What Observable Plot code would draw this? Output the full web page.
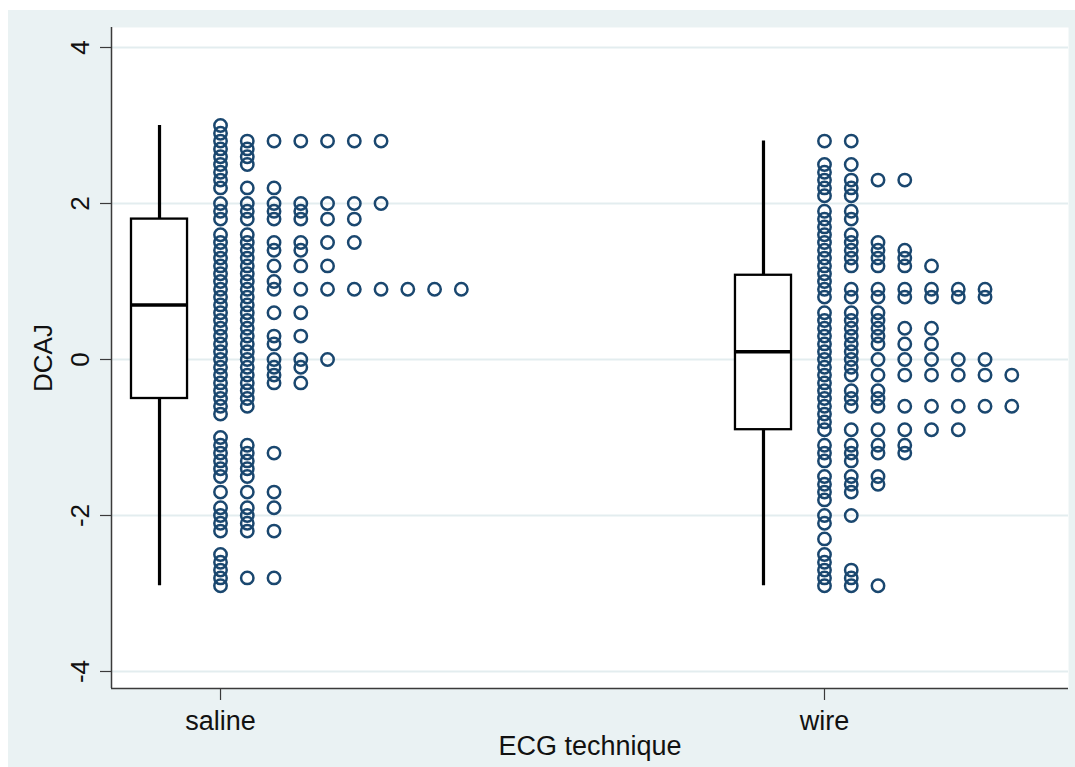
<!DOCTYPE html>
<html>
<head>
<meta charset="utf-8">
<script src="https://cdn.jsdelivr.net/npm/d3@7"></script>
<script src="https://cdn.jsdelivr.net/npm/@observablehq/plot@0.6"></script>
<style>
  html, body { margin: 0; padding: 0; background: #ffffff; }
  #wrap { position: relative; width: 1075px; height: 767px; overflow: hidden; }
  #bg { position: absolute; left: 8px; top: 10px; right: 0; bottom: 0; background: #eaf2f3; }
  #chart { position: absolute; left: 0; top: 0; }
</style>
</head>
<body>
<div id="wrap"><div id="bg"></div><div id="chart"></div></div>
<script>
// ---- data ----
const categories = ["saline", "wire"];
const categoryPositions = [1, 2];

const salineValues = [3.0, 2.9, 2.8, 2.7, 2.6, 2.5, 2.4, 2.3, 2.2, 2.0, 1.9, 1.8, 1.6, 1.5, 1.4, 1.3, 1.2, 1.1, 1.0, 0.9, 0.8, 0.7, 0.6, 0.5, 0.4, 0.3, 0.2, 0.1, 0.0, -0.1, -0.2, -0.3, -0.4, -0.5, -0.6, -0.7, -1.0, -1.1, -1.2, -1.3, -1.4, -1.5, -1.7, -1.9, -2.0, -2.1, -2.2, -2.5, -2.6, -2.7, -2.8, -2.9];
const salineCounts = [1, 1, 7, 2, 2, 2, 1, 1, 3, 7, 4, 6, 2, 6, 4, 2, 5, 2, 3, 10, 2, 2, 4, 2, 2, 4, 3, 2, 5, 4, 3, 4, 2, 2, 2, 1, 1, 2, 3, 2, 2, 2, 3, 3, 2, 2, 3, 1, 1, 1, 3, 1];

const wireValues = [2.8, 2.5, 2.4, 2.3, 2.2, 2.1, 1.9, 1.8, 1.7, 1.6, 1.5, 1.4, 1.3, 1.2, 1.1, 1.0, 0.9, 0.8, 0.6, 0.5, 0.4, 0.3, 0.2, 0.1, 0.0, -0.1, -0.2, -0.3, -0.4, -0.5, -0.6, -0.7, -0.8, -0.9, -1.1, -1.2, -1.3, -1.5, -1.6, -1.7, -1.8, -2.0, -2.1, -2.3, -2.5, -2.6, -2.7, -2.8, -2.9];
const wireCounts = [2, 2, 1, 4, 2, 2, 2, 2, 1, 2, 3, 4, 4, 5, 1, 1, 7, 7, 3, 3, 5, 3, 5, 2, 7, 2, 8, 1, 3, 3, 8, 1, 1, 6, 4, 4, 2, 3, 3, 2, 1, 2, 1, 1, 1, 1, 2, 2, 3];

// box plot summaries (lower adjacent, Q1, median, Q3, upper adjacent)
const boxLow = [-2.9, -2.9];
const boxQ1 = [-0.5, -0.9];
const boxMedian = [0.7, 0.1];
const boxQ3 = [1.8, 1.08];
const boxHigh = [3.0, 2.8];

const yTicks = [-4, -2, 0, 2, 4];

// ---- build tables ----
const groups = [
  {cat: 0, values: salineValues, counts: salineCounts},
  {cat: 1, values: wireValues, counts: wireCounts}
];
const colStep = 0.0443;     // horizontal spacing of dot columns (x units)
const boxOffset = -0.101;   // box centre relative to category
const boxHalf = 0.0464;     // half box width

const dots = [];
for (const g of groups) {
  g.values.forEach((v, i) => {
    for (let k = 0; k < g.counts[i]; k++) {
      dots.push({x: categoryPositions[g.cat] + k * colStep, y: v});
    }
  });
}
const boxes = categories.map((c, i) => ({
  pos: categoryPositions[i] + boxOffset,
  low: boxLow[i], q1: boxQ1[i], med: boxMedian[i], q3: boxQ3[i], high: boxHigh[i]
}));

const xDomain = [0.8195, 2.404];
const yDomain = [-4.218, 4.2564];
const font = "'Liberation Sans', Arial, sans-serif";

const chart = Plot.plot({
  width: 1075,
  height: 767,
  marginLeft: 111,
  marginRight: 7,
  marginTop: 27,
  marginBottom: 79,
  style: {background: "transparent", fontFamily: font, overflow: "visible"},
  x: {type: "linear", domain: xDomain, axis: null},
  y: {domain: yDomain, axis: null},
  marks: [
    Plot.frame({fill: "white", stroke: null}),
    Plot.ruleY(yTicks, {stroke: "#e3edef", strokeWidth: 2}),
    // whiskers
    Plot.ruleX(boxes, {x: "pos", y1: "low", y2: "high", stroke: "black", strokeWidth: 3.2}),
    // boxes
    Plot.rect(boxes, {x1: d => d.pos - boxHalf, x2: d => d.pos + boxHalf, y1: "q1", y2: "q3", fill: "white", stroke: "black", strokeWidth: 2.3}),
    // medians
    Plot.ruleY(boxes, {y: "med", x1: d => d.pos - boxHalf, x2: d => d.pos + boxHalf, stroke: "black", strokeWidth: 3.5}),
    // dot plot
    Plot.dot(dots, {x: "x", y: "y", r: 6.2, fill: "none", stroke: "#1a476f", strokeWidth: 2.5}),
    // axis lines
    Plot.ruleX([xDomain[0]], {stroke: "#3a3a3a", strokeWidth: 1.5}),
    Plot.ruleY([yDomain[0]], {stroke: "#3a3a3a", strokeWidth: 1.5}),
    // x axis
    Plot.axisX(categoryPositions, {
      tickSize: 12, tickPadding: 10, stroke: "#3a3a3a", strokeWidth: 1.2,
      tickFormat: d => categories[d - 1], fontSize: 27, fill: "#111", label: null
    }),
    // y axis ticks
    Plot.axisY(yTicks, {tickSize: 11, tickFormat: () => "", stroke: "#3a3a3a", strokeWidth: 1.2, label: null}),
    // y tick labels (rotated)
    Plot.text(yTicks, {y: d => d, text: d => d < 0 ? "-" + Math.abs(d) : String(d), frameAnchor: "left", dx: -23,
      rotate: -90, textAnchor: "middle", lineAnchor: "bottom", fontSize: 26, fill: "#111"}),
    // axis titles
    Plot.text(["DCAJ"], {frameAnchor: "left", dx: -60, rotate: -90, textAnchor: "middle", lineAnchor: "bottom", fontSize: 26, fill: "#111"}),
    Plot.text(["ECG technique"], {frameAnchor: "bottom", dy: 66, textAnchor: "middle", lineAnchor: "bottom", fontSize: 27, fill: "#111"})
  ]
});
document.getElementById("chart").appendChild(chart);
</script>
</body>
</html>
